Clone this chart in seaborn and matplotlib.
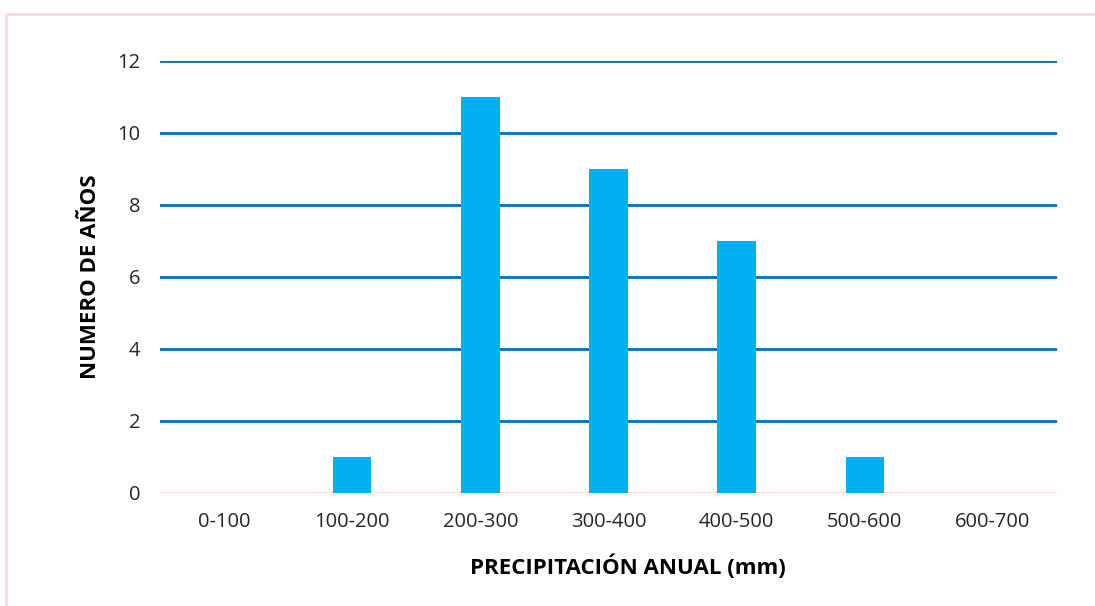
import matplotlib
matplotlib.use("Agg")
import matplotlib.pyplot as plt
import seaborn as sns
import pandas as pd
from matplotlib.patches import Rectangle

# Frequency of years by annual precipitation class
categories = ["0-100", "100-200", "200-300", "300-400", "400-500", "500-600", "600-700"]
years = [0, 1, 11, 9, 7, 1, 0]

df = pd.DataFrame({"rango": categories, "anos": years})

sns.set_theme(style="white")
plt.rcParams["font.family"] = ["Open Sans", "DejaVu Sans"]

fig = plt.figure(figsize=(10.95, 6.06), dpi=100)
ax = fig.add_axes([160 / 1095, 1 - 493 / 606, (1057 - 160) / 1095, (493 - 61) / 606])

sns.barplot(data=df, x="rango", y="anos", color="#00B0F0", width=0.3,
            saturation=1, linewidth=0, edgecolor="none", ax=ax, zorder=3)

ax.set_ylim(0, 12)
ax.set_xlim(-0.5, len(categories) - 0.5)
ax.set_yticks(range(0, 13, 2))
for yv in range(2, 13, 2):
    ax.axhline(yv, color="#0070C0", lw=2.0, zorder=1)
ax.axhline(0, color="#FFD9D9", lw=2.0, zorder=2)

for s in ax.spines.values():
    s.set_visible(False)
ax.tick_params(axis="both", length=0, labelsize=14.5, colors="#262626")
ax.tick_params(axis="x", pad=14)
ax.tick_params(axis="y", pad=14)

ax.set_xlabel("PRECIPITACIÓN ANUAL (mm)", fontsize=16, fontweight="bold",
              color="black")
ax.xaxis.set_label_coords((628 - 160) / (1057 - 160), -(554 - 493) / (493 - 61))
ax.set_ylabel("NUMERO DE AÑOS", fontsize=16, fontweight="bold", color="black")
ax.yaxis.set_label_coords(-(160 - 101) / (1057 - 160), 0.5)

# light outline around the chart
fig.patches.append(Rectangle((6 / 1095, -0.05), 1.2, 1 - 14 / 606 + 0.05,
                             transform=fig.transFigure, fill=False,
                             edgecolor="#FFD9D9", lw=2.0))

fig.savefig("out.png", dpi=100)
